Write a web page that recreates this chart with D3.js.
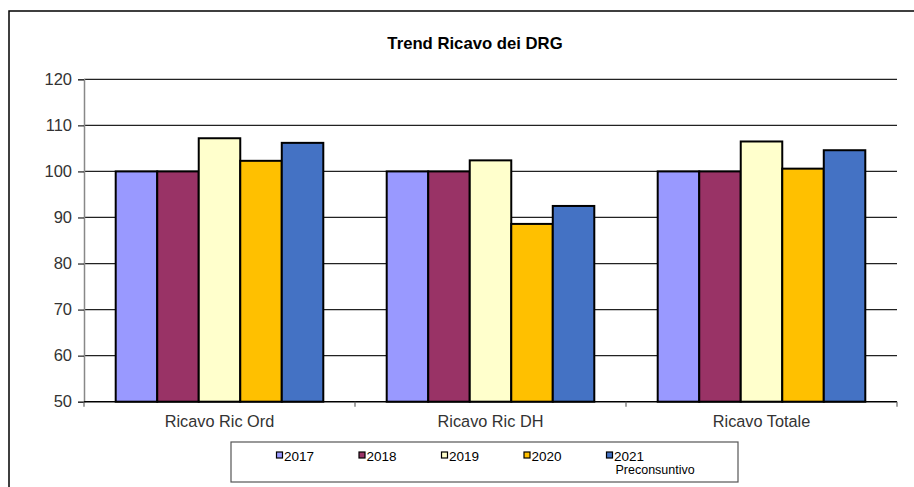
<!DOCTYPE html>
<html>
<head>
<meta charset="utf-8">
<script src="https://cdn.jsdelivr.net/npm/d3@7"></script>
<style>
  html, body { margin: 0; padding: 0; background: #fff; }
  svg { display: block; font-family: "Liberation Sans", Arial, sans-serif; }
</style>
</head>
<body>
<svg id="chart" width="914" height="487"></svg>
<script>
// Chart data
const categories = ["Ricavo Ric Ord", "Ricavo Ric DH", "Ricavo Totale"];
const seriesNames = ["2017", "2018", "2019", "2020", "2021"];
const seriesSubLabels = ["", "", "", "", "Preconsuntivo"];
const values2017 = [100, 100, 100];
const values2018 = [100, 100, 100];
const values2019 = [107.2, 102.4, 106.5];
const values2020 = [102.3, 88.6, 100.6];
const values2021 = [106.2, 92.5, 104.6];
const seriesColors = ["#9999FF", "#993366", "#FFFFCC", "#FFC000", "#4472C4"];
const yTicks = [50, 60, 70, 80, 90, 100, 110, 120];
const chartTitle = "Trend Ricavo dei DRG";

const seriesValues = [values2017, values2018, values2019, values2020, values2021];

const svg = d3.select("#chart");

// Outer chart frame (open on the right and bottom)
svg.append("rect")
  .attr("x", 9).attr("y", 11)
  .attr("width", 920).attr("height", 500)
  .attr("fill", "#fff")
  .attr("stroke", "#000").attr("stroke-width", 1.5);

// Title
svg.append("text")
  .attr("x", 475).attr("y", 49)
  .attr("text-anchor", "middle")
  .attr("font-weight", "bold")
  .attr("font-size", 16.7)
  .attr("fill", "#000")
  .text(chartTitle);

const plot = { left: 84, right: 897, top: 79.3, bottom: 401.7 };

const y = d3.scaleLinear().domain([50, 120]).range([plot.bottom, plot.top]);
const x0 = d3.scaleBand().domain(categories)
  .range([plot.left, plot.right])
  .paddingInner(0.234).paddingOuter(0.117);
const x1 = d3.scaleBand().domain(seriesNames).range([0, x0.bandwidth()]).padding(0);

// Horizontal gridlines
svg.append("g")
  .selectAll("line")
  .data(yTicks.filter(t => t > 50))
  .join("line")
  .attr("x1", plot.left).attr("x2", plot.right)
  .attr("y1", d => y(d)).attr("y2", d => y(d))
  .attr("stroke", "#222").attr("stroke-width", 1.2);

// Y axis
const yAxis = svg.append("g")
  .attr("transform", `translate(${plot.left},0)`)
  .call(d3.axisLeft(y).tickValues(yTicks).tickSize(6).tickPadding(6));
yAxis.select(".domain").attr("stroke", "#888").attr("stroke-width", 1.5);
yAxis.selectAll(".tick line").attr("stroke", "#222").attr("stroke-width", 1.2);
yAxis.selectAll(".tick text")
  .attr("font-size", 16.5).attr("fill", "#333")
  .attr("font-family", "'Liberation Sans', Arial, sans-serif");

// Bars
const groups = svg.append("g")
  .selectAll("g")
  .data(categories)
  .join("g")
  .attr("transform", d => `translate(${x0(d)},0)`);

groups.selectAll("rect")
  .data((c, ci) => seriesNames.map((s, si) => ({ s, si, v: seriesValues[si][ci] })))
  .join("rect")
  .attr("x", d => x1(d.s))
  .attr("y", d => y(d.v))
  .attr("width", x1.bandwidth())
  .attr("height", d => y(50) - y(d.v))
  .attr("fill", d => seriesColors[d.si])
  .attr("stroke", "#000").attr("stroke-width", 2);

// X axis with ticks between categories
const xAxisG = svg.append("g");
xAxisG.append("line")
  .attr("x1", plot.left).attr("x2", plot.right)
  .attr("y1", plot.bottom).attr("y2", plot.bottom)
  .attr("stroke", "#000").attr("stroke-width", 1.5);
const step = x0.step();
const boundaries = d3.range(categories.length + 1).map(i => plot.left + i * step);
xAxisG.selectAll("line.tk")
  .data(boundaries)
  .join("line").attr("class", "tk")
  .attr("x1", d => d).attr("x2", d => d)
  .attr("y1", plot.bottom).attr("y2", plot.bottom + 5)
  .attr("stroke", "#666").attr("stroke-width", 1.2);
xAxisG.selectAll("text")
  .data(categories)
  .join("text")
  .attr("x", d => x0(d) + x0.bandwidth() / 2)
  .attr("y", 427)
  .attr("text-anchor", "middle")
  .attr("font-size", 16.3)
  .attr("fill", "#333")
  .text(d => d);

// Legend
const legend = svg.append("g");
legend.append("rect")
  .attr("x", 231).attr("y", 442)
  .attr("width", 507).attr("height", 40)
  .attr("fill", "#fff")
  .attr("stroke", "#555").attr("stroke-width", 1.2);

const legendX = d3.scalePoint().domain(seriesNames).range([276.5, 606.5]);
const items = legend.selectAll("g")
  .data(seriesNames)
  .join("g")
  .attr("transform", d => `translate(${legendX(d)},0)`);
items.append("rect")
  .attr("x", 0).attr("y", 452)
  .attr("width", 6).attr("height", 6)
  .attr("fill", (d, i) => seriesColors[i])
  .attr("stroke", "#000").attr("stroke-width", 1.2);
items.append("text")
  .attr("x", 7.5).attr("y", 461)
  .attr("font-size", 13.5).attr("fill", "#000")
  .text(d => d);
items.append("text")
  .attr("x", 9).attr("y", 474)
  .attr("font-size", 12.5).attr("fill", "#000")
  .text((d, i) => seriesSubLabels[i]);
</script>
</body>
</html>
